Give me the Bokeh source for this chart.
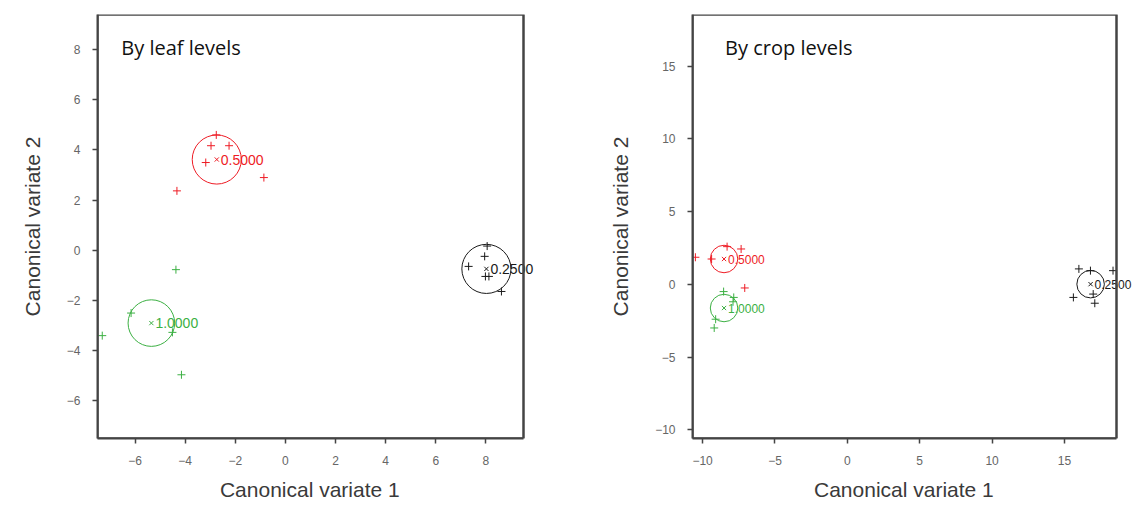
from bokeh.plotting import figure
from bokeh.layouts import row
from bokeh.models import Range1d, FixedTicker, Label, BoxAnnotation
from bokeh.core.properties import value
from bokeh.embed import file_html
from bokeh.resources import INLINE

# ---------------- data: By leaf levels ----------------
leaf_groups = ["0.2500", "0.5000", "1.0000"]
leaf_colors = ["#1a1a1a", "#ee1c25", "#3cb043"]
leaf_pts_x = {
    "0.2500": [8.05, 7.95, 7.31, 7.98, 8.12, 8.62],
    "0.5000": [-2.76, -2.97, -2.25, -3.18, -0.86, -4.33],
    "1.0000": [-4.37, -6.16, -4.51, -7.31, -4.15],
}
leaf_pts_y = {
    "0.2500": [0.17, -0.24, -0.64, -1.04, -1.04, -1.64],
    "0.5000": [4.60, 4.17, 4.17, 3.50, 2.90, 2.37],
    "1.0000": [-0.77, -2.50, -3.27, -3.40, -4.96],
}
leaf_mean_x = [8.02, -2.74, -5.35]
leaf_mean_y = [-0.74, 3.62, -2.90]
leaf_radius = [0.98, 0.98, 0.93]
leaf_xlim = (-7.5, 9.5)
leaf_ylim = (-7.5, 9.4)

# ---------------- data: By crop levels ----------------
crop_groups = ["0.2500", "0.5000", "1.0000"]
crop_colors = ["#1a1a1a", "#ee1c25", "#3cb043"]
crop_pts_x = {
    "0.2500": [16.00, 16.80, 18.36, 15.62, 17.10, 16.99],
    "0.5000": [-10.50, -9.38, -8.31, -7.34, -7.09],
    "1.0000": [-8.55, -9.10, -9.20, -7.85, -7.90],
}
crop_pts_y = {
    "0.2500": [1.06, 0.94, 0.94, -0.90, -1.30, -0.67],
    "0.5000": [1.86, 1.74, 2.59, 2.43, -0.25],
    "1.0000": [-0.50, -2.40, -3.00, -0.90, -1.20],
}
crop_mean_x = [16.81, -8.52, -8.52]
crop_mean_y = [0.01, 1.74, -1.63]
crop_radius = [0.95, 0.95, 0.95]
crop_xlim = (-10.7, 18.6)
crop_ylim = (-10.6, 18.55)

leaf_xticks = [-6, -4, -2, 0, 2, 4, 6, 8]
leaf_yticks = [-6, -4, -2, 0, 2, 4, 6, 8]
crop_xticks = [-10, -5, 0, 5, 10, 15]
crop_yticks = [-10, -5, 0, 5, 10, 15]

FONT = "Liberation Sans"
FRAME_H = 424
BOTTOM = 68
EDGE = "#444444"
NBSP = "\u00a0"


def make_panel(title, groups, colors, px, py, mx, my, rad, xlim, ylim, xt, yt,
               width, border_left, box_w, title_xy, label_size, pad):
    # the plotting frame extends to the right edge of the figure so that the
    # group labels may run over the drawn box, as in the reference
    fw = width - border_left
    ppu = box_w / (xlim[1] - xlim[0])
    xr = (xlim[0], xlim[0] + fw / ppu)
    p = figure(width=width, height=506, output_backend="svg", toolbar_location=None,
               x_range=Range1d(*xr), y_range=Range1d(*ylim),
               min_border_left=border_left, min_border_right=0,
               min_border_top=14, min_border_bottom=BOTTOM,
               frame_width=fw, frame_height=FRAME_H)
    p.xgrid.visible = False
    p.ygrid.visible = False
    p.outline_line_color = None
    p.background_fill_color = "white"
    p.border_fill_color = "white"

    for ax in (p.xaxis[0], p.yaxis[0]):
        ax.axis_line_color = EDGE
        ax.axis_line_width = 2
        ax.major_tick_line_color = EDGE
        ax.major_tick_line_width = 1.5
        ax.major_tick_out = 5
        ax.major_tick_in = 0
        ax.minor_tick_line_color = None
        ax.major_label_text_font = FONT
        ax.major_label_text_font_size = "12px"
        ax.major_label_text_color = "#666666"
        ax.axis_label_text_font = FONT
        ax.axis_label_text_font_size = "21px"
        ax.axis_label_text_font_style = "normal"
        ax.axis_label_text_color = "#3a3a3a"
    p.xaxis[0].bounds = xlim
    p.xaxis[0].ticker = FixedTicker(ticks=xt)
    p.yaxis[0].ticker = FixedTicker(ticks=yt)
    # trailing no-break spaces re-centre the label under the drawn box
    p.xaxis[0].axis_label = "Canonical variate 1" + NBSP * pad
    p.yaxis[0].axis_label = "Canonical variate 2"
    p.xaxis[0].major_label_standoff = 12
    p.yaxis[0].major_label_standoff = 12
    p.xaxis[0].axis_label_standoff = 10
    p.yaxis[0].axis_label_standoff = 20

    p.add_layout(BoxAnnotation(left=xlim[0], right=xlim[1], bottom=ylim[0], top=ylim[1],
                               fill_color=None, fill_alpha=0, line_color=EDGE,
                               line_alpha=1.0, line_width=2.5))

    for g, c in zip(groups, colors):
        p.scatter(px[g], py[g], marker="cross", size=8, line_color=c, line_width=1)

    p.circle(x=mx, y=my, radius=rad, fill_color=None, line_color=colors, line_width=1)
    p.scatter(x=mx, y=my, marker="x", size=6, line_color=colors, line_width=1)
    p.text(x=mx, y=my, text=groups, text_color=colors, text_font_size=label_size,
           text_baseline="middle", text_align="left", x_offset=4,
           text_font=value(FONT))

    p.add_layout(Label(x=title_xy[0], y=title_xy[1], text=title,
                       text_font="Open Sans", text_font_size="20px",
                       text_color="#111111", text_baseline="middle"))
    return p


left = make_panel("By leaf levels", leaf_groups, leaf_colors, leaf_pts_x, leaf_pts_y,
                  leaf_mean_x, leaf_mean_y, leaf_radius, leaf_xlim, leaf_ylim,
                  leaf_xticks, leaf_yticks, 580, 97, 426, (-6.55, 8.1), "14px", 10)
right = make_panel("By crop levels", crop_groups, crop_colors, crop_pts_x, crop_pts_y,
                   crop_mean_x, crop_mean_y, crop_radius, crop_xlim, crop_ylim,
                   crop_xticks, crop_yticks, 564, 112, 424, (-8.45, 16.3), "12px", 5)

layout = row(left, right)
open("out.html", "w").write(file_html(layout, INLINE))
